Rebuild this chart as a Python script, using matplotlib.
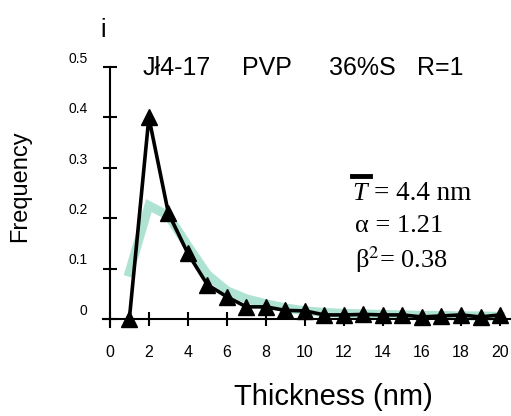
import matplotlib
matplotlib.use('Agg')
import matplotlib.pyplot as plt
from matplotlib.lines import Line2D
from matplotlib.transforms import ScaledTranslation

# measured thickness histogram (black triangles) and fitted curve (teal)
thickness = list(range(1, 21))
freq = [0.0, 0.40, 0.21, 0.13, 0.068, 0.044, 0.024, 0.024, 0.017, 0.016,
        0.008, 0.008, 0.009, 0.008, 0.008, 0.004, 0.006, 0.008, 0.004, 0.008]
fit = [0.093, 0.225, 0.205, 0.145, 0.088, 0.056, 0.040, 0.030, 0.022, 0.016,
       0.013, 0.011, 0.010, 0.009, 0.008, 0.007, 0.007, 0.006, 0.006, 0.005]

xticks = list(range(0, 21, 2))
yticks = [0, 0.1, 0.2, 0.3, 0.4, 0.5]
ytick_labels = ['0', '0.1', '0.2', '0.3', '0.4', '0.5']

plt.rcParams['font.family'] = ['Liberation Sans', 'DejaVu Sans']
plt.rcParams['mathtext.fontset'] = 'stix'

W, H = 511, 416
fig = plt.figure(figsize=(W / 100, H / 100), dpi=100)
ax = fig.add_axes([0.2016, 0.2139, 0.796, 0.625])


def px(x, y):
    return x / W, 1 - y / H


ax.plot(thickness, fit, color='#aee3d3', lw=6.5, solid_joinstyle='miter', zorder=2)
ax.plot(thickness, freq, color='black', lw=2.6, marker='^', ms=12,
        mfc='black', mec='black', clip_on=False, zorder=3)

ax.set_xlim(-0.35, 20.5)
ax.set_ylim(-0.016, 0.5)

for s in ['top', 'right']:
    ax.spines[s].set_visible(False)
ax.spines['left'].set_position(('data', 0))
ax.spines['bottom'].set_position(('data', 0))
ax.spines['left'].set_linewidth(1.5)
ax.spines['bottom'].set_linewidth(1.5)

ax.set_xticks(xticks)
ax.set_xticklabels([str(t) for t in xticks], fontsize=11.5)
ax.set_yticks(yticks)
ax.set_yticklabels(ytick_labels, fontsize=10)
ax.tick_params(axis='x', direction='inout', length=10, width=1.5, pad=14)
ax.tick_params(axis='y', direction='inout', length=10, width=1.5, pad=11)

# y tick labels sit above their ticks in the original
for lab in ax.get_yticklabels():
    lab.set_transform(lab.get_transform() + ScaledTranslation(0, 7 / 72, fig.dpi_scale_trans))

fig.text(*px(20, 186), 'Frequency', rotation=90, fontsize=17, ha='center', va='center')
fig.text(*px(333, 397), 'Thickness (nm)', fontsize=21, ha='center', va='center')
fig.text(*px(103, 37), 'i', fontsize=18, ha='center', va='baseline')

for x, s in [(143, 'Jł4-17'), (242, 'PVP'), (329, '36%S'), (417, 'R=1')]:
    fig.text(*px(x, 75), s, fontsize=18, ha='left', va='baseline')

serif = 'Liberation Serif'
fig.text(*px(352, 200), 'T', fontsize=19, family=serif, style='italic', va='baseline')
fig.text(*px(374, 200), '= 4.4 nm', fontsize=19.5, family=serif, va='baseline')
fig.add_artist(Line2D([352 / W, 370 / W], [1 - 176 / H, 1 - 176 / H], color='black', lw=3.5))
fig.text(*px(355, 232), 'α = 1.21', fontsize=19, family=serif, va='baseline')
fig.text(*px(355, 268), r'β$^{\mathrm{2}}$= 0.38', fontsize=19, family=serif, va='baseline')

fig.savefig('out.png', dpi=100)
